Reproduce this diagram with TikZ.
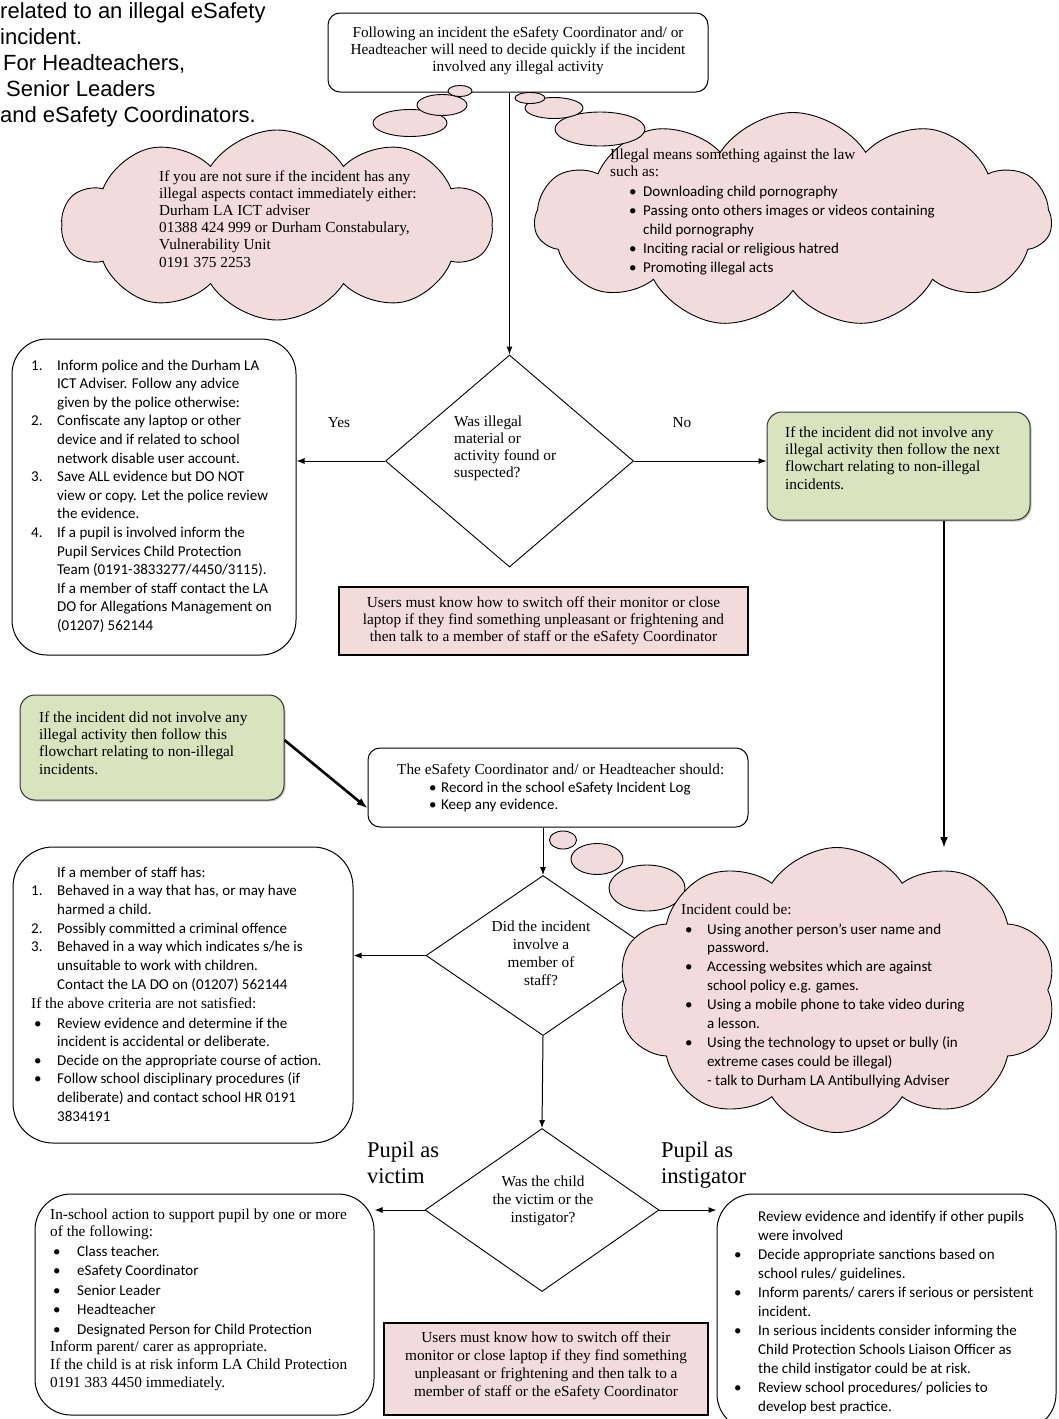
\documentclass[tikz,border=0pt]{standalone}
\usepackage{fontspec}
\setmainfont{Liberation Serif}
\newfontfamily\carl{Carlito}
\newfontfamily\arl{Liberation Sans}
\usetikzlibrary{shapes.geometric,shapes.symbols,arrows.meta,calc,shadows}
\definecolor{pinkf}{RGB}{242,220,219}
\definecolor{greenf}{RGB}{215,228,189}
\newcommand\tmf[1]{\fontsize{15.3}{#1}\selectfont}
\newcommand\cbf[1]{\carl\fontsize{15}{#1}\selectfont}
\newcommand\NumIt[1]{\makebox[26pt][l]{#1}}
\newcommand\IndIt{\hspace*{26pt}}
\newcommand\BulA{\makebox[26pt][l]{\hspace*{3pt}•}}
% multi-line text nodes are placed by the baseline of their LAST line
\tikzset{
  txt/.style={inner sep=0pt, align=left, anchor=base west},
  ctxt/.style={inner sep=0pt, align=center, anchor=base},
  rbox/.style={draw, line width=1pt, inner sep=0pt, rounded corners=#1},
  rbox/.default=12pt,
  gbox/.style={draw=black!80, line width=1pt, fill=greenf, inner sep=0pt, rounded corners=15pt,
    drop shadow={shadow xshift=1.5pt, shadow yshift=-1.5pt, opacity=0.45}},
  notice/.style={draw, line width=1.1pt, fill=pinkf, inner sep=0pt},
  decision/.style={diamond, draw, line width=0.9pt, fill=white, inner sep=0pt},
  puffcloud/.style={cloud, cloud ignores aspect, draw, line width=0.9pt, fill=pinkf, inner sep=0pt},
  bubble/.style={ellipse, draw, line width=0.9pt, fill=pinkf, inner sep=0pt},
  arr/.style={-{Latex[length=8pt,width=6pt]}, line width=1pt},
  tharr/.style={-{Latex[length=11pt,width=8pt]}, line width=2.6pt},
}
\begin{document}
\begin{tikzpicture}[x=1pt,y=-1pt]
\fill[white] (0,0) rectangle (1059,1419);
\useasboundingbox (0,0) rectangle (1059,1419);

% top-left heading
\node[txt, font={\arl\fontsize{22}{26}\selectfont}] (head) at (0,122)
  {related to an illegal eSafety\\incident.\\\hspace*{3pt}For Headteachers,\\\hspace*{6pt}Senior Leaders\\and eSafety Coordinators.};

% top box
\node[rbox, minimum width=380pt, minimum height=79pt] (top) at (518,52.5) {};
\node[ctxt, font={\tmf{17.4}}] (toptext) at (518,71.8)
  {Following an incident the eSafety Coordinator and/ or\\Headteacher will need to decide quickly if the incident\\involved any illegal activity};

% thought bubbles to left cloud
\node[puffcloud, cloud puffs=10, cloud puff arc=115, minimum width=430pt, minimum height=190pt] (cl1) at (277,225) {};
\node[bubble, minimum width=74pt, minimum height=27pt] (bl3) at (410,123) {};
\node[bubble, minimum width=50pt, minimum height=21pt] (bl2) at (442,105) {};
\node[bubble, minimum width=24pt, minimum height=11pt] (bl1) at (460,91) {};
\node[txt, font={\tmf{17.2}}] (cl1text) at (159,267)
  {If you are not sure if the incident has any\\illegal aspects contact immediately either:\\Durham LA ICT adviser\\01388 424 999 or Durham Constabulary,\\Vulnerability Unit\\0191 375 2253};

% right cloud
\node[puffcloud, cloud puffs=11, cloud puff arc=115, minimum width=517pt, minimum height=215pt] (cl2) at (793,220) {};
\node[bubble, minimum width=90pt, minimum height=34pt] (br3) at (600,129) {};
\node[bubble, minimum width=58pt, minimum height=21pt] (br2) at (554,108) {};
\node[bubble, minimum width=30pt, minimum height=11pt] (br1) at (530,98) {};
\node[txt, font={\tmf{17.4}}] (cl2text) at (610,176.4) {Illegal means something against the law\\such as:};
\node[txt, font={\cbf{19}}] (cl2list) at (629,272)
  {\makebox[14pt][l]{•}Downloading child pornography\\\makebox[14pt][l]{•}Passing onto others images or videos containing\\\hspace*{14pt}child pornography\\\makebox[14pt][l]{•}Inciting racial or religious hatred\\\makebox[14pt][l]{•}Promoting illegal acts};

% decision 1
\node[decision, minimum width=248pt, minimum height=212pt] (d1) at (509.5,461) {};
\node[txt, font={\tmf{17}}] (d1text) at (454,477) {Was illegal\\material or\\activity found or\\suspected?};
\draw[arr] (d1.north |- top.south) -- (d1.north);

% left box 1
\node[rbox=35pt, minimum width=284pt, minimum height=316pt] (b1) at (154,497) {};
\node[txt, font={\cbf{18.6}}] (b1text) at (31,630.4)
  {\NumIt{1.}Inform police and the Durham LA\\
   \IndIt ICT Adviser. Follow any advice\\
   \IndIt given by the police otherwise:\\
   \NumIt{2.}Confiscate any laptop or other\\
   \IndIt device and if related to school\\
   \IndIt network disable user account.\\
   \NumIt{3.}Save ALL evidence but DO NOT\\
   \IndIt view or copy. Let the police review\\
   \IndIt the evidence.\\
   \NumIt{4.}If a pupil is involved inform the\\
   \IndIt Pupil Services Child Protection\\
   \IndIt Team (0191-3833277/4450/3115).\\
   \IndIt If a member of staff contact the LA\\
   \IndIt DO for Allegations Management on\\
   \IndIt (01207) 562144};

% green right
\node[gbox, minimum width=263pt, minimum height=108pt] (gr) at (898.5,466) {};
\node[txt, font={\tmf{17.4}}] (grtext) at (785,489.2)
  {If the incident did not involve any\\illegal activity then follow the next\\flowchart relating to non-illegal\\incidents.};

\draw[arr] (d1.west) -- (d1.west -| b1.east);
\draw[arr] (d1.east) -- (d1.east -| gr.west);
\node[ctxt, font={\tmf{17.4}}] (yes) at (339,427) {Yes};
\node[ctxt, font={\tmf{17.4}}] (no) at (682,427) {No};

% notice 1
\node[notice, minimum width=409pt, minimum height=68pt] (n1) at (543.5,621) {};
\node[ctxt, font={\tmf{17.4}}] (n1text) at (543.5,641.8)
  {Users must know how to switch off their monitor or close\\laptop if they find something unpleasant or frightening and\\then talk to a member of staff or the eSafety Coordinator};

% green left
\node[gbox, minimum width=264pt, minimum height=105pt] (gl) at (152,747.5) {};
\node[txt, font={\tmf{17.4}}] (gltext) at (39,774.2)
  {If the incident did not involve any\\illegal activity then follow this\\flowchart relating to non-illegal\\incidents.};

% middle box
\node[rbox, minimum width=380pt, minimum height=79pt] (mid) at (558,787.5) {};
\node[txt, font={\tmf{17.4}}] (midtext) at (397,774) {The eSafety Coordinator and/ or Headteacher should:};
\node[txt, font={\cbf{17.5}}] (midlist) at (429,809.5)
  {\makebox[12pt][l]{•}Record in the school eSafety Incident Log\\\makebox[12pt][l]{•}Keep any evidence.};
\draw[tharr] ($(gl.north east)!0.43!(gl.south east)$) -- ($(mid.north west)!0.76!(mid.south west)$);

% decision 2
\node[decision, minimum width=234pt, minimum height=160pt] (d2) at (543,955.5) {};
\node[ctxt, font={\tmf{18.3}}] (d2text) at (541,985.9) {Did the incident\\involve a\\member of\\staff?};
\draw[arr] (d2.north |- mid.south) -- (d2.north);

% bubbles to cloud 3
\node[bubble, minimum width=27pt, minimum height=18pt] (bc1) at (563,840) {};
\node[bubble, minimum width=52pt, minimum height=31pt] (bc2) at (597,859) {};
\node[bubble, minimum width=76pt, minimum height=46pt] (bc3) at (647,888) {};

% cloud 3
\node[puffcloud, cloud puffs=10, cloud puff arc=115, minimum width=439pt, minimum height=285pt] (cl3) at (837,990) {};
\coordinate (c3top) at (944,848);
\draw[tharr] (gr.south -| c3top) -- (c3top);
\node[txt, font={\tmf{17.4}}] (cl3head) at (681,914) {Incident could be:};
\node[txt, font={\cbf{18.9}}] (cl3list) at (685,1085.2)
  {\makebox[22pt][l]{•}Using another person’s user name and\\
   \hspace*{22pt}password.\\
   \makebox[22pt][l]{•}Accessing websites which are against\\
   \hspace*{22pt}school policy e.g. games.\\
   \makebox[22pt][l]{•}Using a mobile phone to take video during\\
   \hspace*{22pt}a lesson.\\
   \makebox[22pt][l]{•}Using the technology to upset or bully (in\\
   \hspace*{22pt}extreme cases could be illegal)\\
   \hspace*{22pt}- talk to Durham LA Antibullying Adviser};

% left box 2
\node[rbox=40pt, minimum width=340pt, minimum height=296pt] (b2) at (183,995) {};
\node[txt, font={\cbf{18.7}}] (b2texta) at (31,989.2)
  {\IndIt If a member of staff has:\\
   \NumIt{1.}Behaved in a way that has, or may have\\
   \IndIt harmed a child.\\
   \NumIt{2.}Possibly committed a criminal offence\\
   \NumIt{3.}Behaved in a way which indicates s/he is\\
   \IndIt unsuitable to work with children.\\
   \IndIt Contact the LA DO on (01207) 562144};
\node[txt, font={\tmf{17.4}}] (b2textb) at (31,1008) {If the above criteria are not satisfied:};
\node[txt, font={\cbf{18.6}}] (b2textc) at (31,1121)
  {\BulA Review evidence and determine if the\\
   \IndIt incident is accidental or deliberate.\\
   \BulA Decide on the appropriate course of action.\\
   \BulA Follow school disciplinary procedures (if\\
   \IndIt deliberate) and contact school HR 0191\\
   \IndIt 3834191};
\draw[arr] (d2.west) -- (d2.west -| b2.east);

% decision 3
\node[decision, minimum width=234pt, minimum height=163pt] (d3) at (542,1210) {};
\node[ctxt, font={\tmf{18}}] (d3text) at (543,1222) {Was the child\\the victim or the\\instigator?};
\draw[arr] (d2.south) -- (d3.north);
\node[txt, font={\fontsize{22.5}{26}\selectfont}] (pv) at (367,1183) {Pupil as\\victim};
\node[txt, font={\fontsize{22.5}{26}\selectfont}] (pi) at (661,1183) {Pupil as\\instigator};

% left box 3
\node[rbox=36pt, minimum width=339pt, minimum height=221pt] (b3l) at (204.5,1304.5) {};
\node[txt, font={\tmf{17.4}}] (b3la) at (50,1236.4) {In-school action to support pupil by one or more\\of the following:};
\node[txt, font={\cbf{19.5}}] (b3lb) at (53,1334)
  {\makebox[24pt][l]{•}Class teacher.\\\makebox[24pt][l]{•}eSafety Coordinator\\\makebox[24pt][l]{•}Senior Leader\\\makebox[24pt][l]{•}Headteacher\\\makebox[24pt][l]{•}Designated Person for Child Protection};
\node[txt, font={\tmf{18}}] (b3lc) at (50,1387)
  {Inform parent/ carer as appropriate.\\If the child is at risk inform LA Child Protection\\0191 383 4450 immediately.};

% right box 3
\node[rbox=36pt, minimum width=339pt, minimum height=236pt] (b3r) at (886.5,1312) {};
\node[txt, font={\cbf{19}}] (b3rtext) at (734,1411)
  {\hspace*{24pt}Review evidence and identify if other pupils\\
   \hspace*{24pt}were involved\\
   \makebox[24pt][l]{•}Decide appropriate sanctions based on\\
   \hspace*{24pt}school rules/ guidelines.\\
   \makebox[24pt][l]{•}Inform parents/ carers if serious or persistent\\
   \hspace*{24pt}incident.\\
   \makebox[24pt][l]{•}In serious incidents consider informing the\\
   \hspace*{24pt}Child Protection Schools Liaison Officer as\\
   \hspace*{24pt}the child instigator could be at risk.\\
   \makebox[24pt][l]{•}Review school procedures/ policies to\\
   \hspace*{24pt}develop best practice.};

\draw[arr] (d3.west) -- (d3.west -| b3l.east);
\draw[arr] (d3.east) -- (d3.east -| b3r.west);

% notice 2
\node[notice, minimum width=324pt, minimum height=92pt] (n2) at (546,1369) {};
\node[ctxt, font={\tmf{18.3}}] (n2text) at (546,1396.9)
  {Users must know how to switch off their\\monitor or close laptop if they find something\\unpleasant or frightening and then talk to a\\member of staff or the eSafety Coordinator};
\end{tikzpicture}
\end{document}
